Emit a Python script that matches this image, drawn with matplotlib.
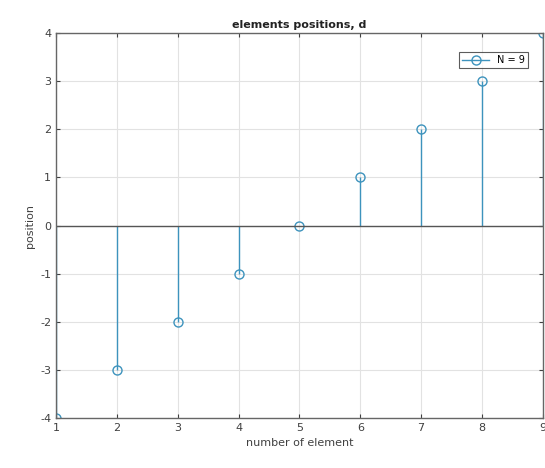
import matplotlib.pyplot as plt
from matplotlib.lines import Line2D
import numpy as np

plt.rcParams["axes.unicode_minus"] = False

# element index and its position
elements = [1, 2, 3, 4, 5, 6, 7, 8, 9]
positions = [-4, -3, -2, -1, 0, 1, 2, 3, 4]
N = len(elements)

stem_col = "#3d93bd"
txt_col = "#404040"

fig = plt.figure(figsize=(5.45, 4.68), dpi=100)
ax = fig.add_axes([0.103, 0.107, 0.893, 0.822])

ml, sl, bl = ax.stem(elements, positions)
plt.setp(sl, color=stem_col, linewidth=1.0)
plt.setp(ml, markerfacecolor="none", markeredgecolor=stem_col, markersize=6.5, markeredgewidth=1.0)
plt.setp(bl, color="#555555", linewidth=1.0)

ax.set_xlim(1, 9)
ax.set_ylim(-4, 4)
ax.set_xticks(np.arange(1, 10))
ax.set_yticks(np.arange(-4, 5))
ax.grid(True, color="#e2e2e2", linewidth=0.8)
ax.set_axisbelow(True)
ax.tick_params(direction="in", length=3, colors=txt_col, labelsize=8, top=True, right=True)
for sp in ax.spines.values():
    sp.set_color("#666666")
    sp.set_linewidth(1.0)

ax.set_title("elements positions, d", fontsize=8, fontweight="bold", color="#222222", pad=4)
ax.set_xlabel("number of element", fontsize=8, color=txt_col)
ax.set_ylabel("position", fontsize=8, color=txt_col)

# legend entry drawn as line with circle marker
handle = Line2D([], [], color=stem_col, linewidth=1.0, marker="o", markersize=6.5,
                markerfacecolor="none", markeredgecolor=stem_col, markevery=[1])
leg = ax.legend([handle], [f"N = {N}"], loc="upper right", fontsize=7, fancybox=False,
                edgecolor="#333333", borderpad=0.35, handlelength=2.8,
                bbox_to_anchor=(0.98, 0.965))
leg.get_frame().set_linewidth(0.8)

fig.savefig("out.png", dpi=100)
